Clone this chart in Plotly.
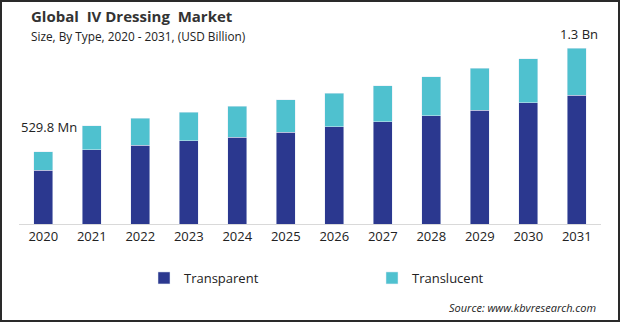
import plotly.graph_objects as go

years = ["2020", "2021", "2022", "2023", "2024", "2025", "2026", "2027", "2028", "2029", "2030", "2031"]
transparent = [0.397, 0.545, 0.581, 0.611, 0.640, 0.677, 0.714, 0.751, 0.795, 0.839, 0.891, 0.949]
translucent = [0.133, 0.177, 0.199, 0.213, 0.228, 0.236, 0.250, 0.265, 0.287, 0.309, 0.324, 0.346]
totals = [a + b for a, b in zip(transparent, translucent)]
first_label = "529.8 Mn"
last_label = "1.3 Bn"

W, H = 620, 322
L, R, T, B = 19, 19, 40, 98
pw, ph = W - L - R, H - T - B

def px_x(p):
    return (p - L) / pw

def px_y(p):
    return (H - B - p) / ph

FONT = "Open Sans"

fig = go.Figure()
fig.add_trace(go.Bar(x=years, y=transparent, name="Transparent", marker_color="#2B388F"))
fig.add_trace(go.Bar(x=years, y=translucent, name="Translucent", marker_color="#4FC1CF"))

fig.update_layout(
    width=W, height=H,
    margin=dict(l=L, r=R, t=T, b=B, pad=0, autoexpand=False),
    barmode="stack", bargap=0.61,
    plot_bgcolor="white", paper_bgcolor="white",
    font=dict(family=FONT, color="#222222", size=13),
    showlegend=True,
    legend=dict(orientation="h", x=px_x(144), y=px_y(278), xanchor="left", yanchor="middle",
                font=dict(size=13, color="#222222"), itemwidth=30,
                entrywidth=183, entrywidthmode="pixels", traceorder="normal"),
    xaxis=dict(type="category", showgrid=False, showline=True, linecolor="#d9d9d9", linewidth=1,
               ticks="", tickfont=dict(size=13, color="#222222"), range=[-0.5, 11.5]),
    yaxis=dict(visible=False, range=[0, ph * 0.00736]),
)

fig.add_annotation(xref="paper", yref="paper", x=px_x(29), y=px_y(16), xanchor="left", yanchor="middle",
                   text="<b>Global  IV Dressing  Market</b>", showarrow=False,
                   font=dict(size=15, color="#333333", family=FONT))
fig.add_annotation(xref="paper", yref="paper", x=px_x(29), y=px_y(36), xanchor="left", yanchor="middle",
                   text="Size, By Type, 2020 - 2031, (USD Billion)", showarrow=False,
                   font=dict(size=11.8, color="#222222", family=FONT))
fig.add_annotation(xref="x", yref="y", x=0, y=totals[0], xshift=6, yshift=14, yanchor="bottom",
                   text=first_label, showarrow=False, font=dict(size=13, color="#222222"))
fig.add_annotation(xref="x", yref="y", x=len(years) - 1, y=totals[-1], xshift=2, yshift=3, yanchor="bottom",
                   text=last_label, showarrow=False, font=dict(size=13, color="#222222"))
fig.add_annotation(xref="paper", yref="paper", x=px_x(598), y=px_y(307), xanchor="right", yanchor="middle",
                   text="<i>Source: www.kbvresearch.com</i>", showarrow=False,
                   font=dict(size=11, color="#222222"))

fig.add_shape(type="rect", xref="paper", yref="paper",
              x0=px_x(1), x1=px_x(619), y0=px_y(321), y1=px_y(1),
              line=dict(color="#2a2a2a", width=2), fillcolor="rgba(0,0,0,0)")

fig.write_html("out.html")
